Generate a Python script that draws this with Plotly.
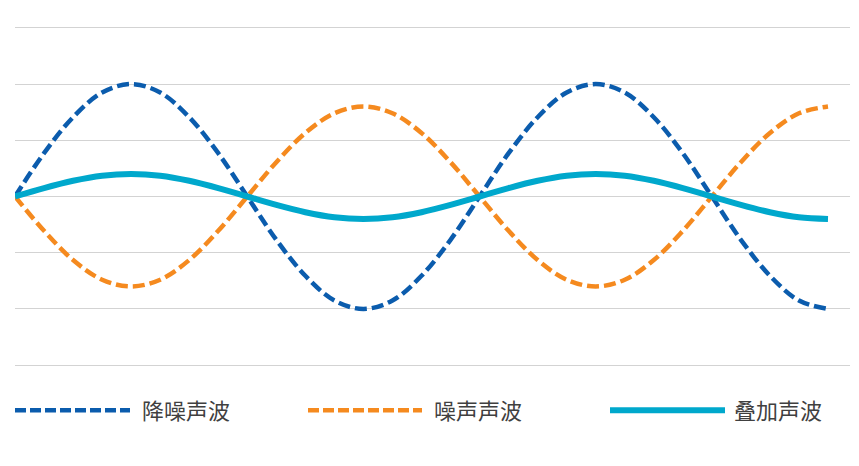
import plotly.graph_objects as go

# x positions in sixteenths of a period
x_vals = list(range(29))
denoise = [0, 0.77, 1.41, 1.85, 2, 1.85, 1.41, 0.77, 0, -0.77, -1.41, -1.85, -2, -1.85, -1.41, -0.77,
           0, 0.77, 1.41, 1.85, 2, 1.85, 1.41, 0.77, 0, -0.77, -1.41, -1.85, -2]
noise = [0, -0.61, -1.13, -1.48, -1.6, -1.48, -1.13, -0.61, 0, 0.61, 1.13, 1.48, 1.6, 1.48, 1.13, 0.61,
         0, -0.61, -1.13, -1.48, -1.6, -1.48, -1.13, -0.61, 0, 0.61, 1.13, 1.48, 1.6]
combined = [0, 0.15, 0.28, 0.37, 0.4, 0.37, 0.28, 0.15, 0, -0.15, -0.28, -0.37, -0.4, -0.37, -0.28, -0.15,
            0, 0.15, 0.28, 0.37, 0.4, 0.37, 0.28, 0.15, 0, -0.15, -0.28, -0.37, -0.4]
names = ["降噪声波", "噪声声波", "叠加声波"]
colors = ["#0B5CAD", "#F58A1F", "#00A8CC"]

OFF = 8  # page body margin
W, H = 859 - OFF, 466 - OFF
# target pixel positions in the screenshot
L, R = 15, 850
YTOP, YBOT = 28, 365  # pixel y of +3 and -3
pad_units = 0.05
ppu = (YBOT - YTOP) / 6.0
T = YTOP - pad_units * ppu
B = YBOT + pad_units * ppu

fig = go.Figure()
fig.add_trace(go.Scatter(x=x_vals, y=denoise, mode="lines", name=names[0],
                         line=dict(color=colors[0], width=4.5, dash="12px,5px", shape="spline", smoothing=1.0)))
fig.add_trace(go.Scatter(x=x_vals, y=noise, mode="lines", name=names[1],
                         line=dict(color=colors[1], width=4.5, dash="12px,5px", shape="spline", smoothing=1.0)))
fig.add_trace(go.Scatter(x=x_vals, y=combined, mode="lines", name=names[2],
                         line=dict(color=colors[2], width=6, shape="spline", smoothing=1.0)))

xmax = 28 * (R - L) / (828 - L)

def px2x(px):
    return (px - L) / (R - L)

def py2y(py):
    return (B - py) / (B - T)

legend_items = [
    (15, 130, 140, names[0], colors[0], 4.5, "11px,4px"),
    (308, 422, 432, names[1], colors[1], 4.5, "11px,4px"),
    (610, 725, 732, names[2], colors[2], 6, "solid"),
]
shapes = []
annotations = []
ly = 410
for x0, x1, tx, label, col, w, dash in legend_items:
    shapes.append(dict(type="line", xref="paper", yref="paper",
                       x0=px2x(x0), x1=px2x(x1), y0=py2y(ly), y1=py2y(ly),
                       line=dict(color=col, width=w, dash=dash)))
    annotations.append(dict(xref="paper", yref="paper", x=px2x(tx), y=py2y(ly - 1),
                            xanchor="left", yanchor="middle", showarrow=False,
                            text=label, font=dict(size=22, color="#404040",
                                                  family="Noto Sans CJK SC")))

fig.update_layout(
    width=W, height=H,
    margin=dict(l=L - OFF, r=W - (R - OFF), t=T - OFF, b=H - (B - OFF), autoexpand=False),
    paper_bgcolor="white", plot_bgcolor="white",
    showlegend=False,
    xaxis=dict(range=[0, xmax], showgrid=False, zeroline=False, showline=False,
               showticklabels=False, ticks=""),
    yaxis=dict(range=[-3 - pad_units, 3 + pad_units], tick0=0, dtick=1, showgrid=True,
               gridcolor="#D3D3D3", gridwidth=1,
               zeroline=False, showline=False, showticklabels=False, ticks=""),
    shapes=shapes,
    annotations=annotations,
)

fig.write_html("out.html")
